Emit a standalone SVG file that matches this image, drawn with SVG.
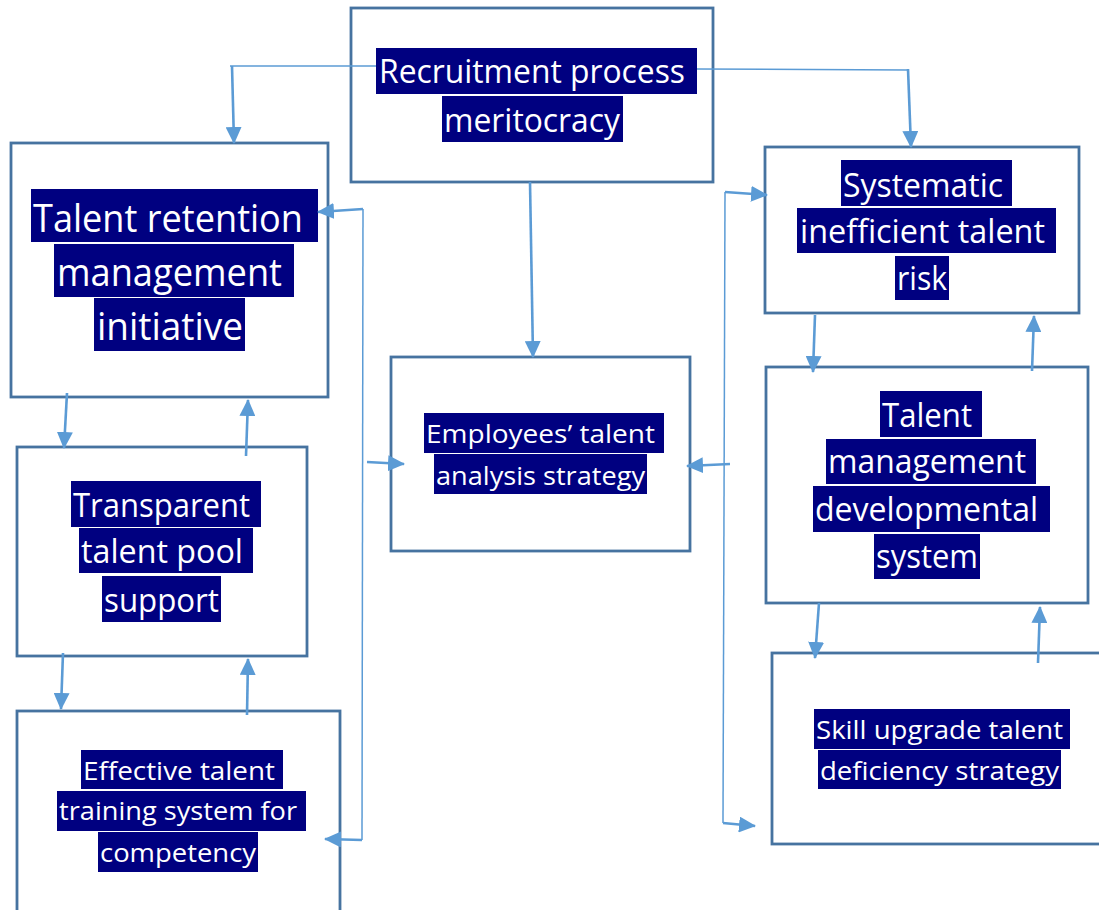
<svg xmlns="http://www.w3.org/2000/svg" width="1099" height="910" viewBox="0 0 1099 910">
  <style>
    .box { fill: #ffffff; stroke: #4673a0; stroke-width: 2.8; }
    .hl { fill: #000080; }
    .t { fill: #ffffff; font-family: "Open Sans", "Noto Sans", "Liberation Sans", sans-serif; }
    .lg { font-size: 39px; }
    .md { font-size: 32px; }
    .sm { font-size: 25px; }
    .arrow { fill: none; stroke: #5b9bd5; stroke-width: 2.6; marker-end: url(#head); }
    .thin { fill: none; stroke: #5b9bd5; stroke-width: 1.5; }
  </style>
  <defs>
    <marker id="head" markerUnits="userSpaceOnUse" markerWidth="17" markerHeight="16" refX="16" refY="8" orient="auto">
      <path d="M0,0 L17,8 L0,16 z" fill="#5b9bd5"/>
    </marker>
  </defs>

  <rect width="1099" height="910" fill="#ffffff"/>

  <!-- nodes -->
  <g id="recruitment">
    <rect class="box" x="351" y="8" width="362" height="174"/>
    <rect class="hl" x="376" y="48" width="321" height="46"/>
    <text class="t md" x="379" y="83" textLength="306" lengthAdjust="spacingAndGlyphs">Recruitment process</text>
    <rect class="hl" x="442" y="96" width="181" height="46"/>
    <text class="t md" x="444" y="132" textLength="176" lengthAdjust="spacingAndGlyphs">meritocracy</text>
  </g>

  <g id="retention">
    <rect class="box" x="11" y="143" width="317" height="254"/>
    <rect class="hl" x="31" y="189" width="287" height="53"/>
    <text class="t lg" x="33" y="232" textLength="270" lengthAdjust="spacingAndGlyphs">Talent retention</text>
    <rect class="hl" x="54" y="244" width="240" height="53"/>
    <text class="t lg" x="57" y="286" textLength="225" lengthAdjust="spacingAndGlyphs">management</text>
    <rect class="hl" x="94" y="298" width="151" height="53"/>
    <text class="t lg" x="97" y="340" textLength="146" lengthAdjust="spacingAndGlyphs">initiative</text>
  </g>

  <g id="systematic">
    <rect class="box" x="765" y="147" width="314" height="166"/>
    <rect class="hl" x="841" y="160" width="171" height="46"/>
    <text class="t md" x="843" y="197" textLength="160" lengthAdjust="spacingAndGlyphs">Systematic</text>
    <rect class="hl" x="797" y="208" width="259" height="45"/>
    <text class="t md" x="800" y="243" textLength="245" lengthAdjust="spacingAndGlyphs">inefficient talent</text>
    <rect class="hl" x="895" y="256" width="54" height="44"/>
    <text class="t md" x="897" y="290" textLength="50" lengthAdjust="spacingAndGlyphs">risk</text>
  </g>

  <g id="analysis">
    <rect class="box" x="391" y="357" width="299" height="194"/>
    <rect class="hl" x="424" y="413" width="240" height="40"/>
    <text class="t sm" x="426" y="443" textLength="229" lengthAdjust="spacingAndGlyphs">Employees’ talent</text>
    <rect class="hl" x="434" y="454" width="213" height="40"/>
    <text class="t sm" x="436" y="485" textLength="209" lengthAdjust="spacingAndGlyphs">analysis strategy</text>
  </g>

  <g id="developmental">
    <rect class="box" x="766" y="367" width="322" height="236"/>
    <rect class="hl" x="880" y="391" width="102" height="46"/>
    <text class="t md" x="882" y="427" textLength="90" lengthAdjust="spacingAndGlyphs">Talent</text>
    <rect class="hl" x="826" y="439" width="210" height="45"/>
    <text class="t md" x="828" y="473" textLength="198" lengthAdjust="spacingAndGlyphs">management</text>
    <rect class="hl" x="813" y="486" width="237" height="46"/>
    <text class="t md" x="815" y="521" textLength="223" lengthAdjust="spacingAndGlyphs">developmental</text>
    <rect class="hl" x="874" y="534" width="106" height="45"/>
    <text class="t md" x="876" y="568" textLength="102" lengthAdjust="spacingAndGlyphs">system</text>
  </g>

  <g id="talent-pool">
    <rect class="box" x="17" y="447" width="290" height="209"/>
    <rect class="hl" x="71" y="481" width="190" height="46"/>
    <text class="t md" x="73" y="517" textLength="177" lengthAdjust="spacingAndGlyphs">Transparent</text>
    <rect class="hl" x="79" y="528" width="174" height="45"/>
    <text class="t md" x="81" y="563" textLength="162" lengthAdjust="spacingAndGlyphs">talent pool</text>
    <rect class="hl" x="102" y="576" width="119" height="46"/>
    <text class="t md" x="104" y="612" textLength="115" lengthAdjust="spacingAndGlyphs">support</text>
  </g>

  <g id="training">
    <rect class="box" x="17" y="711" width="323" height="205"/>
    <rect class="hl" x="81" y="750" width="202" height="39"/>
    <text class="t sm" x="83" y="780" textLength="192" lengthAdjust="spacingAndGlyphs">Effective talent</text>
    <rect class="hl" x="57" y="791" width="249" height="40"/>
    <text class="t sm" x="59" y="820" textLength="238" lengthAdjust="spacingAndGlyphs">training system for</text>
    <rect class="hl" x="98" y="832" width="160" height="40"/>
    <text class="t sm" x="100" y="862" textLength="156" lengthAdjust="spacingAndGlyphs">competency</text>
  </g>

  <g id="skill-upgrade">
    <rect class="box" x="772" y="653" width="335" height="191"/>
    <rect class="hl" x="814" y="709" width="256" height="40"/>
    <text class="t sm" x="816" y="739" textLength="247" lengthAdjust="spacingAndGlyphs">Skill upgrade talent</text>
    <rect class="hl" x="818" y="750" width="243" height="39"/>
    <text class="t sm" x="820" y="780" textLength="239" lengthAdjust="spacingAndGlyphs">deficiency strategy</text>
  </g>

  <!-- connectors -->
  <g id="connectors">
    <!-- recruitment to the two upper boxes -->
    <path class="thin" d="M376,66 L230,66"/>
    <path class="arrow" d="M232,66 L234,143"/>
    <path class="thin" d="M697,69 L908,70"/>
    <path class="arrow" d="M908,69 L911,147"/>
    <!-- recruitment down to analysis -->
    <path class="arrow" d="M530,182 L533,357"/>

    <!-- left feedback rail -->
    <path class="thin" d="M363,209 L362,840"/>
    <path class="arrow" d="M363,209 L318,212"/>
    <path class="arrow" d="M362,840 L325,839"/>
    <path class="arrow" d="M367,462 L404,464"/>

    <!-- right feedback rail -->
    <path class="thin" d="M725,192 L723,823"/>
    <path class="arrow" d="M725,192 L767,195"/>
    <path class="arrow" d="M723,823 L755,826"/>
    <path class="arrow" d="M730,464 L687,466"/>

    <!-- left column pairs -->
    <path class="arrow" d="M67,393 L64,448"/>
    <path class="arrow" d="M246,456 L248,400"/>
    <path class="arrow" d="M63,653 L61,709"/>
    <path class="arrow" d="M247,715 L248,659"/>

    <!-- right column pairs -->
    <path class="arrow" d="M815,315 L813,372"/>
    <path class="arrow" d="M1032,371 L1034,316"/>
    <path class="arrow" d="M819,603 L815,658"/>
    <path class="arrow" d="M1038,663 L1040,607"/>
  </g>
</svg>
